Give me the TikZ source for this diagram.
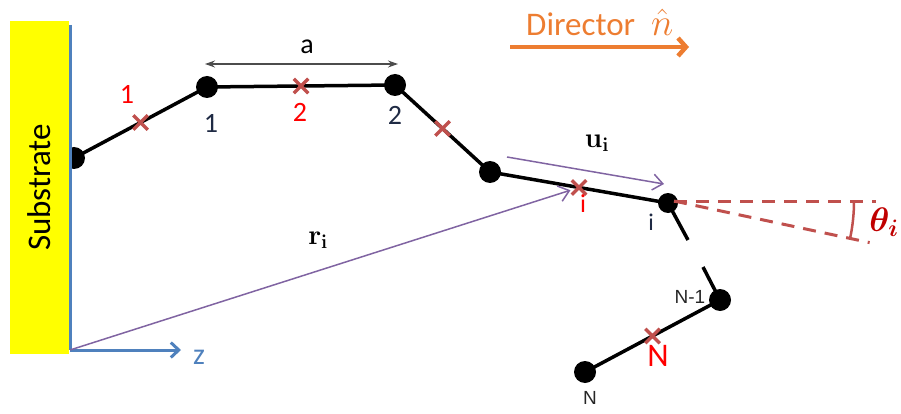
\RequirePackage{fix-cm}
\documentclass[tikz,border=0pt]{standalone}
\usepackage{amsmath,bm}
\usepackage[no-math]{fontspec}
\setmainfont{Carlito}
\newfontfamily\arialfont{Liberation Sans}
\usetikzlibrary{arrows.meta,calc,shapes.misc}
\definecolor{subyellow}{HTML}{FFFF00}
\definecolor{axisblue}{HTML}{4F81BD}
\definecolor{vecpurple}{HTML}{8064A2}
\definecolor{dirorange}{HTML}{ED7D31}
\definecolor{crossred}{HTML}{C0504D}
\definecolor{lblred}{HTML}{FF0000}
\definecolor{thetared}{HTML}{C00000}
\definecolor{beadlbl}{HTML}{1F2A44}
\begin{document}
\begin{tikzpicture}[x=1pt,y=-1pt,
  bead/.style={circle,fill=black,inner sep=0pt,minimum size=22pt},
  bond/.style={line width=3.5pt,black},
  xmark/.style={cross out,draw=crossred,line width=3.5pt,minimum size=11pt,inner sep=0pt},
  redlbl/.style={text=lblred,inner sep=0pt,font=\fontsize{28}{30}\selectfont},
  beadlabel/.style={text=beadlbl,inner sep=0pt,font=\fontsize{28}{30}\selectfont},
  smalllbl/.style={text=black!85,inner sep=0pt,font=\arialfont\fontsize{19}{21}\selectfont},
  vec/.style={vecpurple,line width=1.5pt,-{Straight Barb[length=10pt,width=16pt]}},
  mathlbl/.style={inner sep=0pt,font=\fontsize{28}{30}\selectfont},
  dashline/.style={crossred,line width=3pt,dash pattern=on 13pt off 9pt}]
\useasboundingbox (0,0) rectangle (901,414);
% beads
\node[bead] (b0) at (74,158) {};
\node[bead] (b1) at (207,87) {};
\node[bead] (b2) at (395,85) {};
\node[bead] (b3) at (490,172) {};
\node[bead,minimum size=20pt] (bi) at (668,203) {};
\node[bead] (bn1) at (720,300) {};
\node[bead] (bn) at (585,372) {};
\coordinate (g1) at (688,240);
\coordinate (g2) at (703,267);
% bonds
\draw[bond] (b0.center) -- (b1.center) -- (b2.center) -- (b3.center) -- (bi.center) -- (g1);
\draw[bond] (g2) -- (bn1.center) -- (bn.center);
% substrate
\node[fill=subyellow,rotate=90,minimum width=333pt,minimum height=59pt,inner sep=0pt,
      font=\fontsize{33}{35}\selectfont] (sub) at (39.5,187.5) {Substrate};
\coordinate (top) at (70,25);
\coordinate (o) at (70,350);
\coordinate (zend) at (181,350);
\draw[axisblue,line width=3pt] (top) -- (o);
\draw[axisblue,line width=3pt,-{Straight Barb[length=8pt,width=15pt]}] (o) -- (zend);
\node[text=axisblue,inner sep=0pt,font=\fontsize{30}{32}\selectfont] (zl) at (199,357) {z};
% crosses
\node[xmark] (x1) at ($(b0)!0.5!(b1)$) {};
\node[xmark] (x2) at ($(b1)!0.5!(b2)$) {};
\node[xmark] (x3) at ($(b2)!0.5!(b3)$) {};
\node[xmark] (xi) at ($(b3)!0.5!(bi)$) {};
\node[xmark] (xn) at ($(bn1)!0.5!(bn)$) {};
% red labels
\node[redlbl] (l1) at (127,94) {1};
\node[redlbl] (l2) at (300,112) {2};
\node[redlbl,font=\fontsize{26}{28}\selectfont] (li) at (583,204) {i};
\node[redlbl,font=\fontsize{33}{35}\selectfont] (ln) at (658,356) {N};
% bead labels
\node[beadlabel] (k1) at (211,123) {1};
\node[beadlabel] (k2) at (395,115) {2};
\node[beadlabel,font=\fontsize{24}{26}\selectfont] (ki) at (651,222) {i};
\node[smalllbl] (kn1) at (690,297) {N-1};
\node[smalllbl] (kn) at (590,398) {N};
% bond length a
\coordinate (a0) at (205,64);
\coordinate (a1) at (398,64);
\draw[black!70,line width=1.2pt,{Stealth[length=10pt,width=7pt]}-{Stealth[length=10pt,width=7pt]}] (a0) -- (a1);
\node[inner sep=0pt,font=\fontsize{28}{30}\selectfont] (al) at (307,47) {a};
% director
\node[text=dirorange,inner sep=0pt,font=\fontsize{33}{35}\selectfont,anchor=west] (dir) at (526,22)
  {Director\hspace{16pt}{\fontsize{38}{40}\selectfont$\hat{n}$}};
\coordinate (d0) at (510,47);
\coordinate (d1) at (689,47);
\draw[dirorange,line width=4.5pt,-{Straight Barb[length=8pt,width=18pt]}] (d0) -- (d1);
% vectors
\coordinate (u0) at (507,157);
\coordinate (u1) at (664,184);
\draw[vec] (u0) -- (u1);
\node[mathlbl] (ul) at (597,143) {$\mathbf{u}_{\mathbf{i}}$};
\draw[vec,shorten >=9pt] (o) -- (xi.center);
\node[mathlbl] (rl) at (318,240) {$\mathbf{r}_{\mathbf{i}}$};
% angle theta
\coordinate (th0) at (674,201);
\coordinate (th1) at (876,201);
\coordinate (th2) at ($(th0)+(12:200)$);
\draw[dashline] (th0) -- (th1);
\draw[dashline] (th0) -- (th2);
\draw[crossred,line width=2.5pt] ($(th0)+(0:180)$) arc[start angle=0,end angle=12,radius=180];
\node[mathlbl,text=thetared,font=\fontsize{34}{36}\selectfont] (thl) at (884,222) {$\bm{\theta_i}$};
\end{tikzpicture}
\end{document}
